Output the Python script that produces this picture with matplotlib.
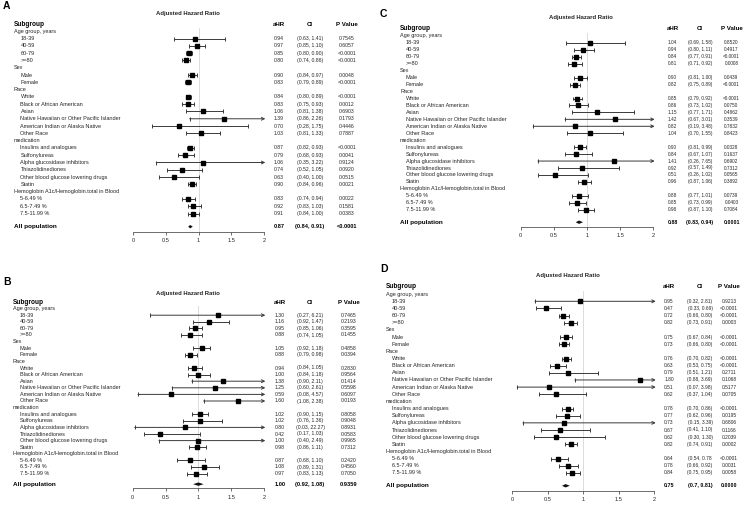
import re
import matplotlib
matplotlib.use('Agg')
import matplotlib.pyplot as plt
from matplotlib import transforms

plt.rcParams['font.family'] = ['Liberation Sans', 'DejaVu Sans']

# subgroup rows (headers are not indented and carry no estimate)
labels = ["Age group, years", "18-39", "40-59", "60-79", ">=80",
          "Sex", "Male", "Female",
          "Race", "White", "Black or African American", "Asian",
          "Native Hawaiian or Other Pacific Islander", "American Indian or Alaska Native", "Other Race",
          "medication", "Insulins and analogues", "Sulfonylureas", "Alpha glucosidase inhibitors",
          "Thiazolidinediones", "Other blood glucose lowering drugs", "Statin",
          "Hemoglobin A1c/Hemoglobin.total in Blood", "5-6.49 %", "6.5-7.49 %", "7.5-11.99 %"]
headers = ["Age group, years", "Sex", "Race", "medication", "Hemoglobin A1c/Hemoglobin.total in Blood"]
tick_vals = [0, 0.5, 1, 1.5, 2]
tick_text = ["0", "0.5", "1", "1.5", "2"]

# panel A  (last entry = All population)
hr_A = ["0.94", "0.97", "0.85", "0.80", "0.90", "0.83", "0.84", "0.83", "1.06", "1.39", "0.70", "1.03",
        "0.87", "0.79", "1.06", "0.74", "0.63", "0.90", "0.83", "0.92", "0.91", "0.87"]
ci_A = ["(0.63, 1.41)", "(0.85, 1.10)", "(0.80, 0.90)", "(0.74, 0.86)", "(0.84, 0.97)", "(0.79, 0.89)",
        "(0.80, 0.89)", "(0.75, 0.93)", "(0.81, 1.38)", "(0.86, 2.26)", "(0.28, 1.75)", "(0.81, 1.33)",
        "(0.82, 0.93)", "(0.68, 0.93)", "(0.35, 3.22)", "(0.52, 1.05)", "(0.40, 1.00)", "(0.84, 0.96)",
        "(0.74, 0.94)", "(0.83, 1.03)", "(0.84, 1.00)", "(0.84, 0.91)"]
p_A = ["0.7545", "0.6057", "<0.0001", "<0.0001", "0.0048", "<0.0001", "<0.0001", "0.0012", "0.6903",
       "0.1793", "0.4446", "0.7887", "<0.0001", "0.0041", "0.9124", "0.0920", "0.0515", "0.0021",
       "0.0022", "0.1581", "0.0383", "<0.0001"]

# panel B
hr_B = ["1.30", "1.16", "0.95", "0.88", "1.05", "0.88", "0.94", "1.00", "1.38", "1.25", "0.59", "1.60",
        "1.02", "1.02", "0.80", "0.42", "1.00", "0.98", "0.87", "1.08", "0.97", "1.00"]
ci_B = ["(0.27, 6.21)", "(0.92, 1.47)", "(0.85, 1.06)", "(0.74, 1.05)", "(0.92, 1.18)", "(0.79, 0.98)",
        "(0.84, 1.05)", "(0.84, 1.18)", "(0.90, 2.11)", "(0.60, 2.61)", "(0.08, 4.57)", "(1.08, 2.38)",
        "(0.90, 1.15)", "(0.76, 1.36)", "(0.03, 22.27)", "(0.17, 1.03)", "(0.40, 2.49)", "(0.86, 1.11)",
        "(0.68, 1.10)", "(0.89, 1.31)", "(0.83, 1.13)", "(0.92, 1.08)"]
p_B = ["0.7465", "0.2193", "0.3595", "0.1455", "0.4858", "0.0394", "0.2830", "0.9564", "0.1414",
       "0.5598", "0.6097", "0.0193", "0.8058", "0.9048", "0.8931", "0.0583", "0.9965", "0.7312",
       "0.2420", "0.4560", "0.7050", "0.9359"]

# panel C
hr_C = ["1.04", "0.94", "0.84", "0.81", "0.90", "0.82", "0.85", "0.86", "1.15", "1.42", "0.82", "1.04",
        "0.90", "0.84", "1.41", "0.92", "0.51", "0.96", "0.88", "0.85", "0.98", "0.88"]
ci_C = ["(0.69, 1.58)", "(0.80, 1.11)", "(0.77, 0.91)", "(0.71, 0.92)", "(0.81, 1.00)", "(0.75, 0.89)",
        "(0.79, 0.92)", "(0.73, 1.02)", "(0.77, 1.71)", "(0.67, 3.01)", "(0.19, 3.48)", "(0.70, 1.55)",
        "(0.81, 0.99)", "(0.67, 1.07)", "(0.26, 7.65)", "(0.57, 1.49)", "(0.26, 1.02)", "(0.87, 1.06)",
        "(0.77, 1.01)", "(0.73, 0.99)", "(0.87, 1.10)", "(0.83, 0.94)"]
p_C = ["0.8520", "0.4917", "<0.0001", "0.0008", "0.0439", "<0.0001", "<0.0001", "0.0750", "0.4862",
       "0.3539", "0.7832", "0.8423", "0.0328", "0.1637", "0.6902", "0.7312", "0.0565", "0.3892",
       "0.0739", "0.0403", "0.7084", "0.0001"]

# panel D
hr_D = ["0.95", "0.47", "0.72", "0.82", "0.75", "0.73", "0.76", "0.63", "0.79", "1.80", "0.51", "0.62",
        "0.78", "0.77", "0.73", "0.67", "0.62", "0.82", "0.64", "0.78", "0.84", "0.75"]
ci_D = ["(0.32, 2.81)", "(0.33, 0.69)", "(0.66, 0.80)", "(0.73, 0.91)", "(0.67, 0.84)", "(0.66, 0.80)",
        "(0.70, 0.82)", "(0.53, 0.75)", "(0.51, 1.21)", "(0.88, 3.69)", "(0.07, 3.98)", "(0.37, 1.04)",
        "(0.70, 0.86)", "(0.62, 0.96)", "(0.15, 3.39)", "(0.41, 1.10)", "(0.30, 1.30)", "(0.74, 0.91)",
        "(0.54, 0.78", "(0.66, 0.92)", "(0.75, 0.95)", "(0.7, 0.81)"]
p_D = ["0.9213", "<0.0001", "<0.0001", "0.0003", "<0.0001", "<0.0001", "<0.0001", "<0.0001", "0.2711",
       "0.1068", "0.5177", "0.0705", "<0.0001", "0.0195", "0.6806", "0.1166", "0.2039", "0.0002",
       "<0.0001", "0.0031", "0.0058", "0.0000"]

W, H = 751, 505

# layout in pixels of the 751x505 picture
layout = {
    "A": dict(lab=(3, 6), title=(188, 14), sub_y=24, step=7.29, all_row=27.8, axis_y=231.7,
              x0=133.3, x2=264, sub_x=14, ind=6.5, cols=(279, 310, 347), vfs=3.7),
    "B": dict(lab=(3, 282), title=(188, 293), sub_y=302, step=6.6, all_row=27.6, axis_y=488.3,
              x0=132.7, x2=264, sub_x=13, ind=6.5, cols=(280, 310, 349), vfs=3.7),
    "C": dict(lab=(380, 14), title=(581, 17), sub_y=29, step=6.95, all_row=27.8, axis_y=226.7,
              x0=520.7, x2=653.3, sub_x=400, ind=5.5, cols=(672.5, 700, 731.5), vfs=3.4),
    "D": dict(lab=(380, 269), title=(568, 276), sub_y=287, step=7.15, all_row=27.8, axis_y=491,
              x0=512.3, x2=654.3, sub_x=386, ind=6, cols=(669, 700, 729), vfs=3.5),
}

bar_col = '#3a3a3a'
txt_col = '#262626'
lfs = 4.0   # row label size


def parse_ci(s):
    lo, hi = re.findall(r'[\d.]+', s)[:2]
    return float(lo), float(hi)


def draw_panel(fig, letter, hr, ci, pv, lay):
    x0, x2 = lay["x0"], lay["x2"]
    sub_y, step, axis_y = lay["sub_y"], lay["step"], lay["axis_y"]
    vfs = lay["vfs"]
    nbot = (axis_y - sub_y) / step
    ax = fig.add_axes([x0 / W, 1 - axis_y / H, (x2 - x0) / W, (axis_y - sub_y) / H])
    ax.set_xlim(0, 2)
    ax.set_ylim(nbot, 0)
    for s in ['top', 'left', 'right']:
        ax.spines[s].set_visible(False)
    ax.spines['bottom'].set_linewidth(0.6)
    ax.spines['bottom'].set_color('#555555')
    ax.set_yticks([])
    ax.set_xticks(tick_vals)
    ax.set_xticklabels(tick_text)
    ax.tick_params(axis='x', labelsize=4.1, length=2.3, width=0.6, pad=2.2, colors='#555555',
                   labelcolor=txt_col)
    ax.patch.set_alpha(0)
    ax.axvline(1, ymin=0, ymax=1 - 0.6 / nbot, color='#d6d6d6', lw=0.6, zorder=0)

    fig.text(lay["lab"][0] / W, 1 - lay["lab"][1] / H, letter, fontsize=7.5, fontweight='bold',
             ha='left', va='center')
    fig.text(lay["title"][0] / W, 1 - lay["title"][1] / H, "Adjusted Hazard Ratio", fontsize=4.3,
             fontweight='bold', ha='center', va='center', color=txt_col)

    tr = transforms.blended_transform_factory(fig.transFigure, ax.transData)
    ca, cc, cp = [c / W for c in lay["cols"]]
    sx = lay["sub_x"] / W
    ix = (lay["sub_x"] + lay["ind"]) / W

    ax.text(sx, 0, "Subgroup", transform=tr, fontsize=4.7, fontweight='bold', ha='left', va='center')
    for c, h in zip((ca, cc, cp), ("aHR", "CI", "P Value")):
        ax.text(c, 0, h, transform=tr, fontsize=4.4, fontweight='bold', ha='center', va='center')

    cap = 2.0 / step
    k = 0
    for i, lab in enumerate(labels):
        r = i + 1
        if lab in headers:
            ax.text(sx, r, lab, transform=tr, fontsize=lfs, ha='left', va='center', color=txt_col)
            continue
        ax.text(ix, r, lab, transform=tr, fontsize=lfs, ha='left', va='center', color=txt_col)
        est = float(hr[k])
        lo, hi = parse_ci(ci[k])
        if hi > 2:
            ax.annotate('', xy=(2.02, r), xytext=(lo, r),
                        arrowprops=dict(arrowstyle='->', lw=0.7, color=bar_col, shrinkA=0, shrinkB=0,
                                        mutation_scale=5), annotation_clip=False)
            ax.vlines([lo], r - cap, r + cap, color=bar_col, lw=0.7)
        else:
            ax.hlines(r, lo, hi, color=bar_col, lw=0.7)
            ax.vlines([lo, hi], r - cap, r + cap, color=bar_col, lw=0.7)
        ax.plot(est, r, marker='s', ms=2.2, color='black', mec='black', zorder=3)
        ax.text(ca, r, hr[k], transform=tr, fontsize=vfs, ha='center', va='center', color=txt_col)
        ax.text(cc, r, ci[k], transform=tr, fontsize=vfs, ha='center', va='center', color=txt_col)
        ax.text(cp, r, pv[k], transform=tr, fontsize=vfs, ha='center', va='center', color=txt_col)
        k += 1

    # overall estimate as a small diamond
    r = lay["all_row"]
    est = float(hr[k])
    lo, hi = parse_ci(ci[k])
    d = 1.7 / step
    ax.fill([lo, est, hi, est], [r, r - d, r, r + d], color='#111111', lw=0)
    ax.text(sx, r, "All population", transform=tr, fontsize=4.6, fontweight='bold', ha='left', va='center')
    for c, t in zip((ca, cc, cp), (hr[k], ci[k], pv[k])):
        ax.text(c, r, t, transform=tr, fontsize=vfs + 0.4, fontweight='bold', ha='center', va='center')
    return ax


fig = plt.figure(figsize=(W / 100, H / 100), dpi=100)
draw_panel(fig, "A", hr_A, ci_A, p_A, layout["A"])
draw_panel(fig, "B", hr_B, ci_B, p_B, layout["B"])
draw_panel(fig, "C", hr_C, ci_C, p_C, layout["C"])
draw_panel(fig, "D", hr_D, ci_D, p_D, layout["D"])

fig.savefig('out.png', dpi=100)
